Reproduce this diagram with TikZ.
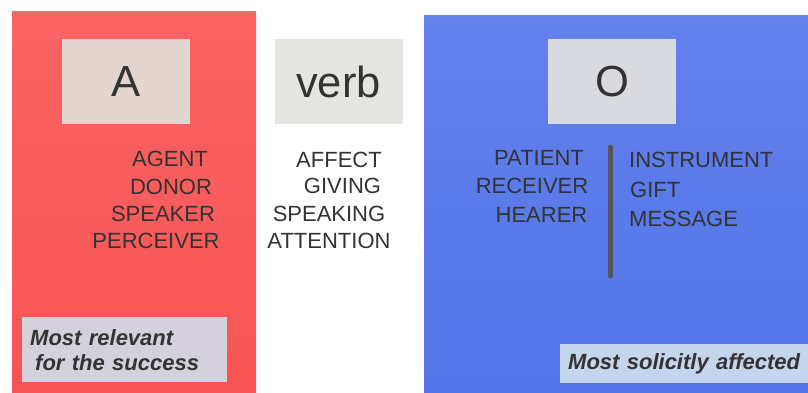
\documentclass[tikz,border=0pt]{standalone}
\usepackage{fontspec}
\setmainfont{Liberation Sans}
\usetikzlibrary{positioning}
\definecolor{txt}{HTML}{333333}
\definecolor{redtop}{HTML}{FA6464}
\definecolor{redbot}{HTML}{F75454}
\definecolor{bluetop}{HTML}{6382EC}
\definecolor{bluebot}{HTML}{5473E8}
\definecolor{boxA}{HTML}{E3D5CF}
\definecolor{boxverb}{HTML}{E4E4E0}
\definecolor{boxO}{HTML}{D8DADF}
\definecolor{notered}{HTML}{D5D1DC}
\definecolor{noteblue}{HTML}{C5D5EC}
\definecolor{divgray}{HTML}{55555F}

\begin{document}
\begin{tikzpicture}[x=1pt, y=-1pt,
                    every node/.style={text=txt, inner sep=0pt, font=\fontsize{22}{22}\selectfont},
                    panel/.style={anchor=north west},
                    rolebox/.style={minimum width=128pt, minimum height=85pt, font=\fontsize{43.5}{43.5}\selectfont},
                    notebox/.style={anchor=north west, align=left, inner xsep=8pt,
                                    font=\fontsize{22}{25}\selectfont\bfseries\itshape},
                    divider/.style={draw=divgray, line width=5pt, line cap=round}]

\fill[white] (0,0) rectangle (808,392);
\useasboundingbox (0,0) rectangle (808,392);

\node[panel, minimum width=244pt, minimum height=381pt, top color=redtop, bottom color=redbot] (aside) at (12,11) {};
\node[panel, minimum width=384pt, minimum height=377pt, top color=bluetop, bottom color=bluebot] (oside) at (424,15) {};

\node[rolebox, fill=boxA] (A) at (126,81.5) {A};
\node[rolebox, fill=boxverb] (verb) at (338.5,81.5) {verb};
\node[rolebox, fill=boxO] (O) at (612,81.5) {O};

\node (agent) at (170,159) {AGENT};
\node (donor) at (171,187) {DONOR};
\node (speaker) at (163,214) {SPEAKER};
\node (perceiver) at (156,241) {PERCEIVER};

\node (affect) at (339,160) {AFFECT};
\node (giving) at (342.5,186) {GIVING};
\node (speaking) at (329,214) {SPEAKING};
\node (attention) at (329,241) {ATTENTION};

\node (patient) at (539,158) {PATIENT};
\node (receiver) at (532,186) {RECEIVER};
\node (hearer) at (541.5,215) {HEARER};

\node[anchor=west] (instrument) at (629,160) {INSTRUMENT};
\node[anchor=west] (gift) at (630,190) {GIFT};
\node[anchor=west] (message) at (629,219) {MESSAGE};

\coordinate (divtop) at (610,147);
\coordinate (divbot) at (610,276);
\draw[divider] (divtop) -- (divbot);

\node[notebox, fill=notered, minimum width=205pt, minimum height=65pt, text width=189pt] (relevant) at (22,317)
     {Most relevant\\\hspace*{5pt}for the success};
\node[notebox, fill=noteblue, minimum width=248pt, minimum height=39pt, text width=232pt] (affected) at (560,344)
     {Most solicitly affected};
\end{tikzpicture}
\end{document}
